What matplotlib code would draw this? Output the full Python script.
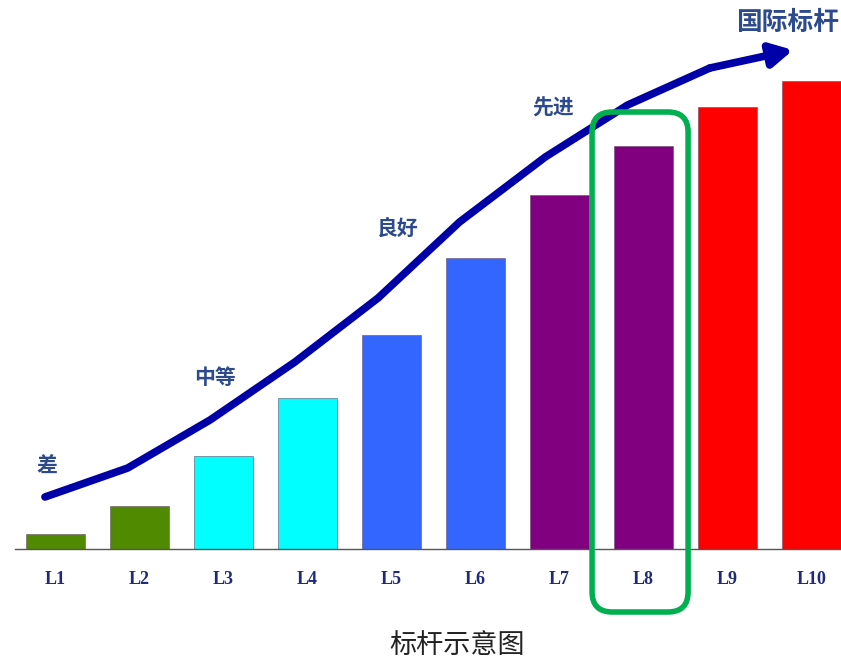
import matplotlib.pyplot as plt
from matplotlib.patches import FancyBboxPatch

plt.rcParams['font.family'] = ['Noto Sans CJK SC', 'DejaVu Sans']

# data
levels = ['L1', 'L2', 'L3', 'L4', 'L5', 'L6', 'L7', 'L8', 'L9', 'L10']
heights = [15, 43, 93, 151, 214, 291, 354, 403, 442, 468]
bar_colors = ['#4f8a00', '#4f8a00', '#00ffff', '#00ffff', '#3366ff',
              '#3366ff', '#800080', '#800080', '#ff0000', '#ff0000']

# trend curve (x in bar index units, y in bar units)
curve_x = [-0.125, 0.86, 1.84, 2.85, 3.84, 4.81, 5.83, 6.81, 7.79]
curve_y = [52, 81, 129, 187, 251, 327, 392, 444, 481]
arrow_tip = (8.78, 499)

stage_names = ['差', '中等', '良好', '先进', '国际标杆']
stage_x = [-0.10, 1.90, 4.08, 5.92, 8.71]
stage_y = [83, 172, 321, 441, 527]
stage_size = [15, 15, 15, 15, 18.5]

highlight = 'L8'

fig = plt.figure(figsize=(8.41, 6.6), dpi=100)
ax = fig.add_axes([0, 0, 1, 1])
ax.set_xlim(-0.66, 9.35)
ax.set_ylim(-111, 549)
for s in ax.spines.values():
    s.set_visible(False)

xs = list(range(len(levels)))
ax.bar(xs, heights, width=0.70, color=bar_colors, edgecolor='#6a4a6a',
       linewidth=0.4, zorder=2)
ax.axhline(0, xmin=15 / 841, xmax=1, color='#555555', lw=1.0, zorder=3)

ax.set_xticks(xs)
ax.set_xticklabels(levels, family='Liberation Serif', fontweight='bold',
                   fontsize=13, color='#1f2a7a')
ax.tick_params(axis='x', length=0, pad=-64, direction='in')
ax.set_yticks([])

# trend line with arrow
ax.plot(curve_x, curve_y, color='#0000a8', lw=5.5, solid_capstyle='round',
        solid_joinstyle='round', zorder=4)
ax.annotate('', xy=arrow_tip, xytext=(curve_x[-1], curve_y[-1]),
            arrowprops=dict(arrowstyle='-|>,head_length=1.3,head_width=0.7',
                            color='#0000a8', lw=5.5, shrinkA=0, shrinkB=0),
            zorder=4)

for name, x, y, fs in zip(stage_names, stage_x, stage_y, stage_size):
    ax.text(x, y, name, ha='center', va='center', fontsize=fs,
            fontweight='bold', color='#2d4b8c', zorder=5)

# green rounded frame round the highlighted level
i = levels.index(highlight)
box = FancyBboxPatch((i - 0.613, -63), 1.143, 500,
                     boxstyle='round,pad=0,rounding_size=0.24',
                     mutation_aspect=84, fill=False, edgecolor='#00b050',
                     linewidth=4, zorder=6)
ax.add_patch(box)

fig.text(457 / 841, 1 - 645 / 660, '标杆示意图', ha='center', va='center',
         fontsize=19.5, color='#222222')

fig.savefig('out.png', dpi=100)
